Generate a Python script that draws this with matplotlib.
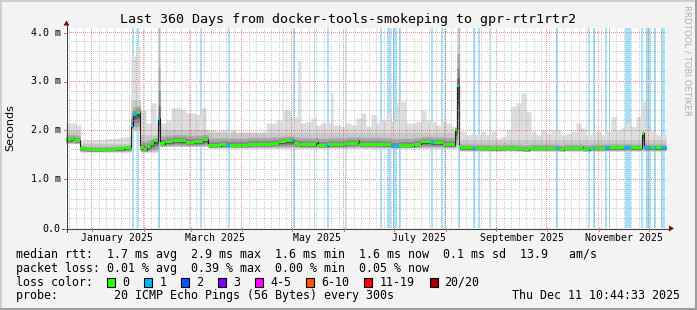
import datetime as dt
import numpy as np
import matplotlib
matplotlib.use("Agg")
import matplotlib.pyplot as plt
from matplotlib.patches import Rectangle, Polygon
from matplotlib.lines import Line2D

# ------------------------------------------------------------------ data
start = dt.datetime(2024, 12, 16, 10, 44, 33)
span_days = 360

# median rtt (ms) as steps: start day, value, lost pings in that step
med_day = [0, 3.2, 5, 8.4, 12, 22, 30, 35, 39, 40, 42.4, 44.6, 47, 48.4, 51, 53,
           55.4, 56.4, 59.6, 64, 68, 72, 77, 82, 85.4, 93, 96, 98.4, 101, 109,
           123, 128, 132, 135.6, 136.6, 137, 140, 148, 150.2, 151, 156, 157, 168,
           175, 176, 189, 195, 200, 209, 213, 219, 220.5, 226, 228, 233.6, 234.6,
           236, 237, 244, 246, 254, 262, 270, 274, 278, 294, 296, 299, 308, 310,
           313, 314.5, 316.4, 317.4, 323.6, 326.6, 335, 339, 345.6, 347, 351,
           352.6, 354, 357]
med_ms = [1.80, 1.82, 1.78, 1.62, 1.59, 1.60, 1.615, 1.64, 2.08, 2.31, 2.35, 1.63,
          1.595, 1.66, 1.73, 1.78, 2.24, 1.72, 1.76, 1.79, 1.78, 1.75, 1.76, 1.80,
          1.68, 1.70, 1.69, 1.69, 1.685, 1.71, 1.73, 1.76, 1.78, 1.78, 1.78, 1.73,
          1.70, 1.70, 1.76, 1.68, 1.68, 1.70, 1.73, 1.77, 1.71, 1.70, 1.66, 1.68,
          1.71, 1.76, 1.74, 1.74, 1.71, 1.70, 2.00, 2.90, 1.66, 1.63, 1.62, 1.62,
          1.61, 1.62, 1.61, 1.59, 1.62, 1.62, 1.595, 1.62, 1.64, 1.595, 1.595,
          1.62, 1.62, 1.62, 1.63, 1.63, 1.64, 1.63, 1.93, 1.63, 1.63, 1.63, 1.63,
          1.63]
med_loss = [0, 0, 0, 0, 0, 0, 0, 0, 1, 1, 0, 0, 0, 0, 0, 0, 1, 0, 0, 0, 0, 0, 0, 0,
            0, 0, 1, 0, 0, 0, 0, 0, 0, 1, 0, 0, 0, 0, 0, 0, 1, 0, 0, 0, 0, 0, 1, 0,
            0, 0, 1, 0, 0, 0, 0, 1, 0, 0, 1, 0, 0, 0, 0, 0, 0, 1, 0, 0, 0, 0, 1, 0,
            1, 0, 1, 0, 1, 0, 0, 1, 0, 1, 0, 1]

# days with packet loss (background bars): start day, length in days
loss_day = [39.5, 42.4, 55.4, 80.6, 97.4, 136.4, 148.6, 156.5, 167.2, 188.6,
            192.4, 196.0, 199.6, 219.2, 225.0, 227.3, 235.4, 244.4, 247.4, 254.4,
            294.0, 313.0, 316.4, 323.6, 325.6, 335.6, 344.8, 347.8, 352.6, 357.0]
loss_len = [1.0, 1.2, 1.0, 0.8, 1.2, 1.2, 1.0, 1.1, 0.8, 0.8,
            2.8, 2.4, 1.2, 1.2, 1.1, 0.9, 1.0, 1.2, 1.0, 0.8,
            1.2, 1.4, 1.0, 1.0, 1.0, 3.4, 1.4, 3.2, 1.4, 2.6]

# smoke: bottom and top of the dense part (steps)
smoke_day = [0, 8.4, 39, 44.6, 55.4, 56.4, 85.4, 234.6, 236]
smoke_lo = [1.72, 1.55, 2.00, 1.55, 1.75, 1.66, 1.63, 1.70, 1.57]
smoke_hi = [1.98, 1.72, 2.60, 1.90, 4.10, 2.00, 1.95, 4.10, 1.78]

# smoke: slowest ping (steps)
smax_day = [0, 6, 9, 12, 21, 24, 30, 33, 36, 39, 42, 44.4, 48, 51, 54, 55.2, 56.4,
            60, 63, 69, 72, 78, 81, 84, 90, 93, 96, 99, 102, 105, 108, 111, 114,
            120, 126, 129.6, 130.4, 132, 135, 139, 140.6, 144, 147, 150, 153, 159,
            160.2, 165, 168, 171, 174, 177, 180, 183, 186, 189, 192, 195, 198, 201,
            204, 210, 213, 216, 219, 222, 225, 228, 231, 234, 235, 236.4, 240, 243,
            246, 249, 252, 255, 258, 261, 264, 267, 270, 273, 276, 279, 282, 285,
            288, 291, 297, 300, 303, 306, 309, 312, 315, 318, 321, 324, 327, 330,
            333, 336, 339, 342, 345, 348, 351, 354, 357]
smax_ms = [2.14, 2.10, 1.78, 1.80, 1.80, 1.82, 1.83, 1.85, 1.87, 3.50, 3.70, 2.40,
           2.14, 2.55, 2.14, 4.10, 2.14, 2.20, 2.45, 2.41, 2.34, 2.31, 2.45, 2.00,
           1.97, 2.00, 1.97, 2.00, 1.90, 1.93, 1.90, 1.93, 1.95, 2.14, 2.20, 4.10,
           2.41, 2.41, 2.27, 3.41, 2.14, 2.17, 2.24, 2.10, 2.14, 2.75, 2.10, 2.07,
           2.14, 2.10, 2.24, 2.34, 2.07, 2.31, 2.14, 2.20, 2.34, 2.17, 2.55, 2.58,
           2.14, 2.17, 2.40, 2.20, 2.17, 2.10, 2.17, 2.14, 2.07, 3.05, 4.10, 1.97,
           1.90, 1.93, 1.90, 1.97, 1.90, 1.97, 1.83, 1.87, 2.00, 2.48, 2.55, 2.75,
           2.37, 1.97, 1.90, 2.00, 1.93, 2.00, 1.90, 1.93, 1.97, 2.14, 2.04, 1.90,
           1.93, 1.97, 1.90, 1.97, 2.27, 2.00, 2.04, 2.14, 2.07, 2.27, 2.58, 2.00,
           1.97, 1.90, 1.93]

y_ticks = [0, 1, 2, 3, 4]
y_tick_labels = ["0.0", "1.0 m", "2.0 m", "3.0 m", "4.0 m"]
label_months = [(2025, 1, "January 2025"), (2025, 3, "March 2025"), (2025, 5, "May 2025"),
                (2025, 7, "July 2025"), (2025, 9, "September 2025"),
                (2025, 11, "November 2025")]

title = "Last 360 Days from docker-tools-smokeping to gpr-rtr1rtr2"
legend_rtt = "median rtt:  1.7 ms avg  2.9 ms max  1.6 ms min  1.6 ms now  0.1 ms sd  13.9   am/s"
legend_loss = "packet loss: 0.01 % avg  0.39 % max  0.00 % min  0.05 % now"
loss_names = ["0", "1", "2", "3", "4-5", "6-10", "11-19", "20/20"]
loss_cols = ["#26ff00", "#00b8ff", "#0059ff", "#7e00ff", "#ff00ff", "#ff5500",
             "#ff0000", "#a00000"]
probe_text = "probe:        20 ICMP Echo Pings (56 Bytes) every 300s"
stamp = "Thu Dec 11 10:44:33 2025"

# ------------------------------------------------------------------ layout
W, H = 697, 310
MONO = "DejaVu Sans Mono"


def fx(x):
    return x / W


def fy(y):
    return 1 - y / H


fig = plt.figure(figsize=(W / 100, H / 100), dpi=100, facecolor="#f3f3f3")

L, R, T, B = 66, 666, 28, 228
NX, NY = R - L, B - T
PX_PER_MS = 49.1
ax = fig.add_axes([fx(L), fy(B), NX / W, NY / H])
ax.set_facecolor("white")
for s in ax.spines.values():
    s.set_visible(False)
ax.set_xticks([])
ax.set_yticks([])
ymax = NY / PX_PER_MS


def days(d):
    return (d - start).total_seconds() / 86400.0


# loss background bars
for d, n in zip(loss_day, loss_len):
    ax.axvspan(d, d + n, color="#a8e2f8", lw=0, zorder=1)

# smoke (evaluated on a fine column grid from the step data)
cols = np.arange(0, span_days, 0.2) + 1e-6
edges = np.append(cols - 1e-6, span_days)


def step_eval(xs, vals, at):
    idx = np.searchsorted(np.asarray(xs), at, side="right") - 1
    return np.asarray(vals)[np.clip(idx, 0, len(vals) - 1)]


med_c = step_eval(med_day, med_ms, cols)
lo_c = np.minimum(step_eval(smoke_day, smoke_lo, cols), med_c - 0.03)
hi_c = np.maximum(step_eval(smoke_day, smoke_hi, cols), med_c + 0.05)
mx_c = np.maximum(step_eval(smax_day, smax_ms, cols), hi_c)


def ext(a):
    return np.append(a, a[-1])


layers = [
    (lo_c, mx_c, "#dddddd"),
    (lo_c, hi_c, "#c8c8c8"),
    (med_c - (med_c - lo_c) * 0.8, med_c + (hi_c - med_c) * 0.55, "#a9a9a9"),
    (med_c - (med_c - lo_c) * 0.55, med_c + (hi_c - med_c) * 0.30, "#888888"),
    (med_c - (med_c - lo_c) * 0.30, med_c + (hi_c - med_c) * 0.13, "#555555"),
]
for a, b, c in layers:
    ax.fill_between(edges, ext(a), ext(b), step="post", color=c, lw=0, zorder=2)

# median
md = list(med_day) + [span_days]
mv = list(med_ms) + [med_ms[-1]]
ax.step(md, mv, where="post", color="#202020", lw=0.8, zorder=4)
band = 1.5 / PX_PER_MS
for i, (d0, val, lc) in enumerate(zip(med_day, med_ms, med_loss)):
    d1 = md[i + 1]
    ax.add_patch(Rectangle((d0, val - band), d1 - d0, 2 * band,
                           color=loss_cols[lc], lw=0, zorder=5))

# dotted grid as a pixel overlay (1 px on / 1 px off)
grid = np.zeros((NY, NX, 4))
minor_rgba = (0.55, 0.55, 0.55, 0.45)
major_rgba = (0.85, 0.30, 0.30, 0.60)


def col_of(d):
    return int(np.floor(d / span_days * NX))


def row_of(v):
    return int(round((ymax - v) * PX_PER_MS))


minor_step = 4.5
first_major = days(dt.datetime(2025, 1, 1))
v = first_major - minor_step * int(first_major / minor_step)
while v < span_days:
    c = col_of(v)
    if 0 <= c < NX:
        grid[1::2, c] = minor_rgba
    v += minor_step
for yv in np.arange(0.2, ymax, 0.2):
    if abs(yv - round(yv)) > 1e-6:
        grid[row_of(yv), 1::2] = minor_rgba
month_pos = []
for m in range(1, 13):
    p = days(dt.datetime(2025, m, 1))
    month_pos.append(p)
    c = col_of(p)
    grid[:, c] = 0
    grid[1::2, c] = major_rgba
for yv in y_ticks[1:]:
    r = row_of(yv)
    grid[r, :] = 0
    grid[r, 1::2] = major_rgba
ax.imshow(grid, extent=(0, span_days, 0, ymax), aspect="auto", origin="upper",
          interpolation="nearest", zorder=6)
ax.set_xlim(0, span_days)
ax.set_ylim(0, ymax)

# axes lines and arrows (figure pixel space)
axis_col = "#404040"
arrow_col = "#7f0000"
fig.add_artist(Line2D([fx(L + 0.5), fx(L + 0.5)], [fy(232), fy(25)], color=axis_col, lw=0.75))
fig.add_artist(Line2D([fx(62), fx(670)], [fy(B + 0.5), fy(B + 0.5)], color=axis_col, lw=0.75))
fig.add_artist(Polygon([(fx(63.5), fy(25.5)), (fx(69.5), fy(25.5)), (fx(66.5), fy(20.5))],
                       closed=True, color=arrow_col, lw=0))
fig.add_artist(Polygon([(fx(669), fy(225.5)), (fx(669), fy(231.5)), (fx(674), fy(B + 0.5))],
                       closed=True, color=arrow_col, lw=0))
# major ticks
for p in month_pos:
    xp = L + col_of(p) + 0.5
    fig.add_artist(Line2D([fx(xp), fx(xp)], [fy(B), fy(B + 3)], color="#d07070", lw=0.7))
for yv in y_ticks:
    yp = T + row_of(yv) + 0.5
    fig.add_artist(Line2D([fx(L - 2.5), fx(L)], [fy(yp), fy(yp)], color="#d07070", lw=0.7))

# y tick labels
for yv, lab in zip(y_ticks, y_tick_labels):
    fig.text(fx(60.5), fy(T + row_of(yv) + 0.5), lab, ha="right", va="center",
             family=MONO, fontsize=7.2)
# month labels (centred mid-month)
for yr, mo, lab in label_months:
    p = days(dt.datetime(yr, mo, 16))
    xp = L + p / span_days * NX
    fig.text(fx(xp), fy(238), lab, ha="center", va="center", family=MONO, fontsize=7.1)

# y label, title, watermark
fig.text(fx(10.5), fy(128), "Seconds", rotation=90, ha="center", va="center",
         family="DejaVu Sans", fontsize=8)
fig.text(fx(348.5), fy(19), title, ha="center", va="center", family=MONO, fontsize=9.6)
fig.text(fx(686.5), fy(5), "RRDTOOL / TOBI OETIKER", rotation=270, ha="center", va="top",
         family="DejaVu Sans", fontsize=6.2, color="#b0b0b0")

# legend
LX = 16
CW = 7.02
fig.text(fx(LX), fy(254.3), legend_rtt, ha="left", va="center", family=MONO, fontsize=8.4)
fig.text(fx(LX), fy(268.3), legend_loss, ha="left", va="center", family=MONO, fontsize=8.4)
fig.text(fx(LX), fy(282.3), "loss color:", ha="left", va="center", family=MONO, fontsize=8.4)
bx = LX + 13 * CW
for name, col in zip(loss_names, loss_cols):
    fig.add_artist(Rectangle((fx(bx), fy(286.5)), 8 / W, 8.5 / H, facecolor=col,
                             edgecolor="black", lw=0.8))
    fig.text(fx(bx + 15), fy(282.3), name, ha="left", va="center", family=MONO, fontsize=8.4)
    bx = bx + 15 + len(name) * CW + 15
fig.text(fx(LX), fy(295.7), probe_text, ha="left", va="center", family=MONO, fontsize=8.4)
fig.text(fx(680), fy(295.7), stamp, ha="right", va="center", family=MONO, fontsize=8.4)

# 3D frame
fig.add_artist(Line2D([0, 1], [fy(0.5), fy(0.5)], color="#cfcfcf", lw=1.4))
fig.add_artist(Line2D([fx(0.5), fx(0.5)], [0, 1], color="#cfcfcf", lw=1.4))
fig.add_artist(Line2D([0, 1], [fy(H - 1), fy(H - 1)], color="#9e9e9e", lw=1.5))
fig.add_artist(Line2D([fx(W - 1), fx(W - 1)], [0, 1], color="#9e9e9e", lw=1.5))

fig.savefig("out.png", dpi=100, facecolor=fig.get_facecolor())
